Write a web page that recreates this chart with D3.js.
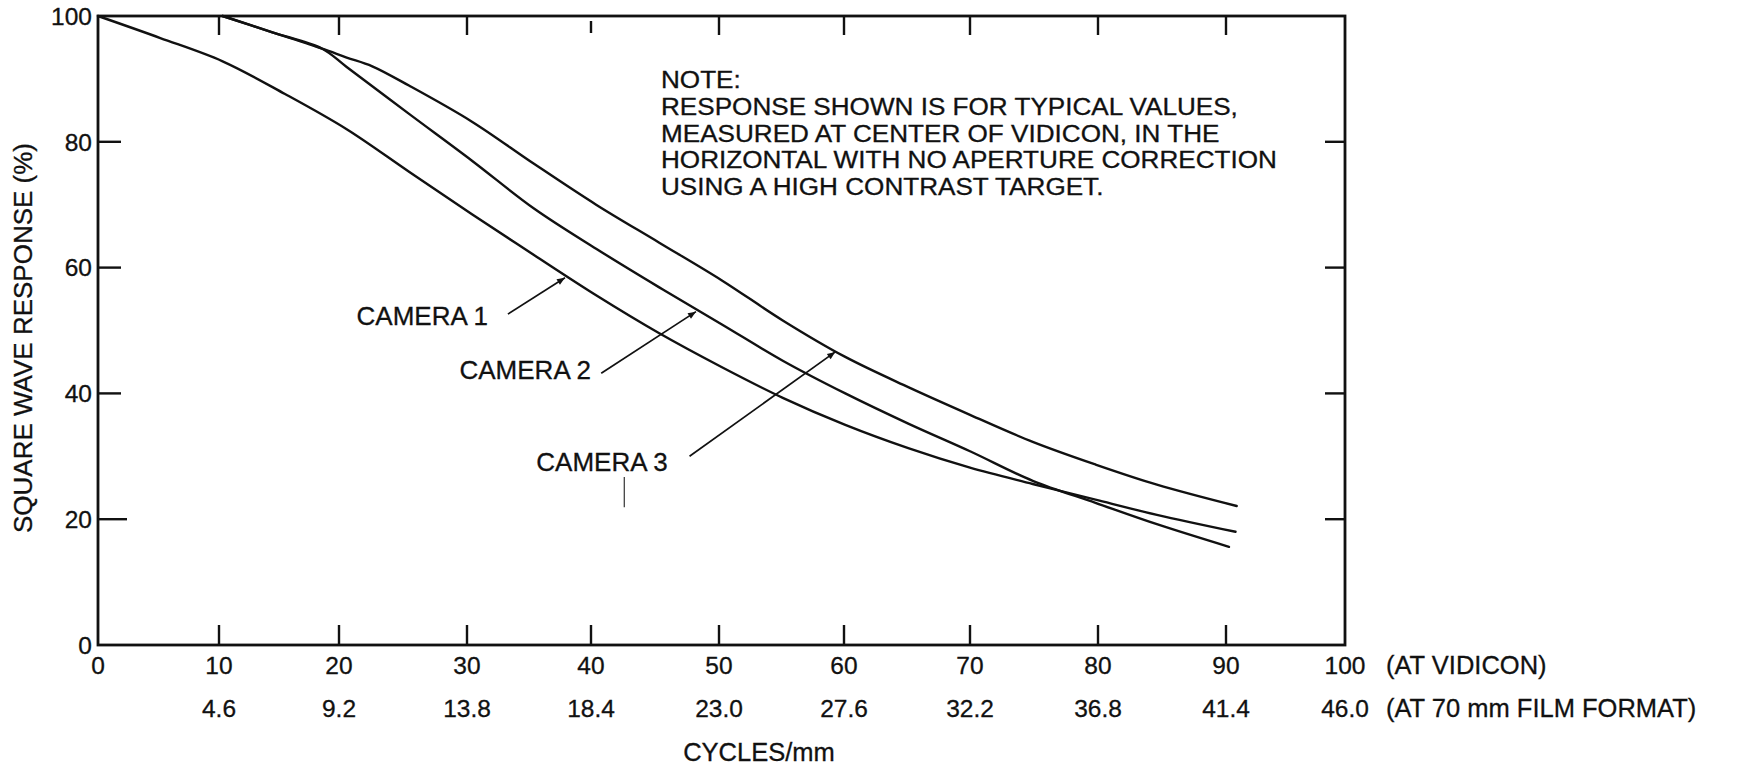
<!DOCTYPE html>
<html>
<head>
<meta charset="utf-8">
<script src="https://cdn.jsdelivr.net/npm/d3@7"></script>
<style>
  html, body { margin: 0; padding: 0; background: #ffffff; }
  svg { display: block; }
  text { font-family: "Liberation Sans", Arial, Helvetica, sans-serif; fill: #111; stroke: #111; stroke-width: 0.3px; }
</style>
</head>
<body>
<svg id="chart" width="1742" height="771"></svg>
<script>
// ---------------- data ----------------
const xTicks = [0, 10, 20, 30, 40, 50, 60, 70, 80, 90, 100];
const filmLabels = ["", "4.6", "9.2", "13.8", "18.4", "23.0", "27.6", "32.2", "36.8", "41.4", "46.0"];
const yTicks = [0, 20, 40, 60, 80, 100];
const innerTicksY = [20, 40, 60, 80];
const innerTicksX = [10, 20, 30, 40, 50, 60, 70, 80, 90];

const camera1X = [0, 5.15, 10.3, 15.5, 20.6, 25.5, 30.4, 35.4, 40.4, 45.3, 50.2, 55.1, 60.1, 65.1, 70.0, 74.9, 79.8, 84.6, 90.8];
const camera1Y = [100, 96.5, 92.8, 87.6, 82.0, 75.2, 68.5, 62.0, 55.6, 49.6, 44.2, 39.3, 35.0, 31.3, 28.2, 25.6, 23.1, 20.7, 18.0];

const camera2X = [10.3, 14.45, 18.6, 20.6, 25.5, 30.4, 35.4, 40.4, 45.3, 50.2, 55.1, 60.1, 65.1, 70.0, 74.9, 79.8, 84.6, 90.25];
const camera2Y = [100, 97.4, 94.8, 91.9, 84.4, 77.0, 69.4, 63.0, 56.9, 51.0, 45.2, 40.0, 35.2, 30.8, 26.1, 22.6, 19.2, 15.6];

const camera3X = [10.3, 14.45, 18.6, 20.6, 22.6, 25.5, 30.4, 35.4, 40.4, 45.3, 50.2, 55.1, 60.1, 65.1, 70.0, 74.9, 79.8, 84.6, 90.9];
const camera3Y = [100, 97.4, 94.8, 93.4, 92.0, 88.9, 83.2, 76.5, 70.0, 64.0, 58.0, 51.6, 45.8, 41.0, 36.6, 32.3, 28.7, 25.5, 22.1];

const seriesNames = ["CAMERA 1", "CAMERA 2", "CAMERA 3"];
// arrow annotations in data units
const arrowStart = [[33.3, 52.6], [40.8, 43.2], [47.7, 30.0]];
const arrowEnd = [[37.9, 58.4], [48.2, 53.0], [59.3, 46.6]];
// label anchor (text end) in data units
const labelPos = [[31.7, 50.9], [40.0, 42.3], [46.0, 27.7]];
const strayMark = [[42.6, 26.7], [42.6, 21.9]];

const noteLines = [
  "NOTE:",
  "RESPONSE SHOWN IS FOR TYPICAL VALUES,",
  "MEASURED AT CENTER OF VIDICON, IN THE",
  "HORIZONTAL WITH NO APERTURE CORRECTION",
  "USING A HIGH CONTRAST TARGET."
];
const yTitle = "SQUARE WAVE RESPONSE (%)";
const xTitle = "CYCLES/mm";
const unitVidicon = "(AT VIDICON)";
const unitFilm = "(AT 70 mm FILM FORMAT)";

// ---------------- layout ----------------
const svg = d3.select("#chart");
// x scale calibrated on the hand-drafted tick marks of the original
const x = d3.scaleLinear().domain(xTicks)
  .range([98, 219, 339, 467, 591, 719, 844, 970, 1098, 1226, 1345]);
const y = d3.scaleLinear().domain([0, 100]).range([645, 16]);

// frame
svg.append("rect")
  .attr("x", x(0)).attr("y", y(100))
  .attr("width", x(100) - x(0)).attr("height", y(0) - y(100))
  .attr("fill", "none").attr("stroke", "#111").attr("stroke-width", 2.8);

// inner ticks
const tickG = svg.append("g").attr("stroke", "#111").attr("stroke-width", 2.4);
tickG.selectAll(".lt").data(innerTicksY).enter().append("line")
  .attr("x1", x(0)).attr("x2", d => x(0) + (d === 20 ? 29 : 23))
  .attr("y1", d => y(d)).attr("y2", d => y(d));
tickG.selectAll(".rt").data(innerTicksY).enter().append("line")
  .attr("x1", x(100)).attr("x2", x(100) - 20)
  .attr("y1", d => y(d)).attr("y2", d => y(d));
tickG.selectAll(".bt").data(innerTicksX).enter().append("line")
  .attr("x1", d => x(d)).attr("x2", d => x(d))
  .attr("y1", y(0)).attr("y2", y(0) - 20);
tickG.selectAll(".tt").data(innerTicksX).enter().append("line")
  .attr("x1", d => x(d)).attr("x2", d => x(d))
  .attr("y1", d => d === 40 ? y(100) + 5 : y(100))
  .attr("y2", d => d === 40 ? y(100) + 17 : y(100) + 19);

// y tick labels
svg.append("g").selectAll("text").data(yTicks).enter().append("text")
  .attr("x", x(0) - 6).attr("y", d => y(d))
  .attr("dy", "0.36em").attr("text-anchor", "end")
  .attr("font-size", 24.5).text(d => d);

// x tick labels (row 1)
svg.append("g").selectAll("text").data(xTicks).enter().append("text")
  .attr("x", d => x(d)).attr("y", 674)
  .attr("text-anchor", "middle").attr("font-size", 24.5).text(d => d);

// x tick labels (row 2)
svg.append("g").selectAll("text").data(xTicks).enter().append("text")
  .attr("x", d => x(d)).attr("y", 717)
  .attr("text-anchor", "middle").attr("font-size", 24.5)
  .text((d, i) => filmLabels[i]);

svg.append("text").attr("x", x(100) + 41).attr("y", 674)
  .attr("font-size", 25.5).text(unitVidicon);
svg.append("text").attr("x", x(100) + 41).attr("y", 717)
  .attr("font-size", 25.5).text(unitFilm);

svg.append("text").attr("x", 759).attr("y", 761)
  .attr("text-anchor", "middle").attr("font-size", 25.5).text(xTitle);

svg.append("text")
  .attr("transform", "translate(32, 338) rotate(-90)")
  .attr("text-anchor", "middle").attr("font-size", 26).text(yTitle);

// note (slightly widened glyphs to match the original lettering)
svg.append("g").selectAll("text").data(noteLines).enter().append("text")
  .attr("x", 661).attr("y", (d, i) => 88 + i * 26.8)
  .attr("font-size", 23).text(d => d)
  .each(function () {
    const len = this.getComputedTextLength();
    d3.select(this).attr("textLength", len * 1.135).attr("lengthAdjust", "spacingAndGlyphs");
  });

// curves
const line = d3.line().x(d => x(d[0])).y(d => y(d[1])).curve(d3.curveCatmullRom.alpha(0.5));
const series = [
  d3.zip(camera1X, camera1Y),
  d3.zip(camera2X, camera2Y),
  d3.zip(camera3X, camera3Y)
];
svg.append("g").selectAll("path").data(series).enter().append("path")
  .attr("d", line).attr("fill", "none").attr("stroke", "#111")
  .attr("stroke-width", 2.4).attr("stroke-linecap", "round");

// arrows
svg.append("defs").append("marker")
  .attr("id", "ah").attr("viewBox", "0 0 10 10")
  .attr("refX", 10).attr("refY", 5)
  .attr("markerWidth", 12).attr("markerHeight", 8)
  .attr("markerUnits", "userSpaceOnUse")
  .attr("orient", "auto")
  .append("path").attr("d", "M0,1 L10,5 L0,9 Z").attr("fill", "#111");

svg.append("g").selectAll("line").data(seriesNames).enter().append("line")
  .attr("x1", (d, i) => x(arrowStart[i][0])).attr("y1", (d, i) => y(arrowStart[i][1]))
  .attr("x2", (d, i) => x(arrowEnd[i][0])).attr("y2", (d, i) => y(arrowEnd[i][1]))
  .attr("stroke", "#111").attr("stroke-width", 1.7)
  .attr("marker-end", "url(#ah)");

svg.append("g").selectAll("text").data(seriesNames).enter().append("text")
  .attr("x", (d, i) => x(labelPos[i][0])).attr("y", (d, i) => y(labelPos[i][1]))
  .attr("text-anchor", "end").attr("font-size", 26).text(d => d);

svg.append("line")
  .attr("x1", x(strayMark[0][0])).attr("y1", y(strayMark[0][1]))
  .attr("x2", x(strayMark[1][0])).attr("y2", y(strayMark[1][1]))
  .attr("stroke", "#333").attr("stroke-width", 1.2);
</script>
</body>
</html>
